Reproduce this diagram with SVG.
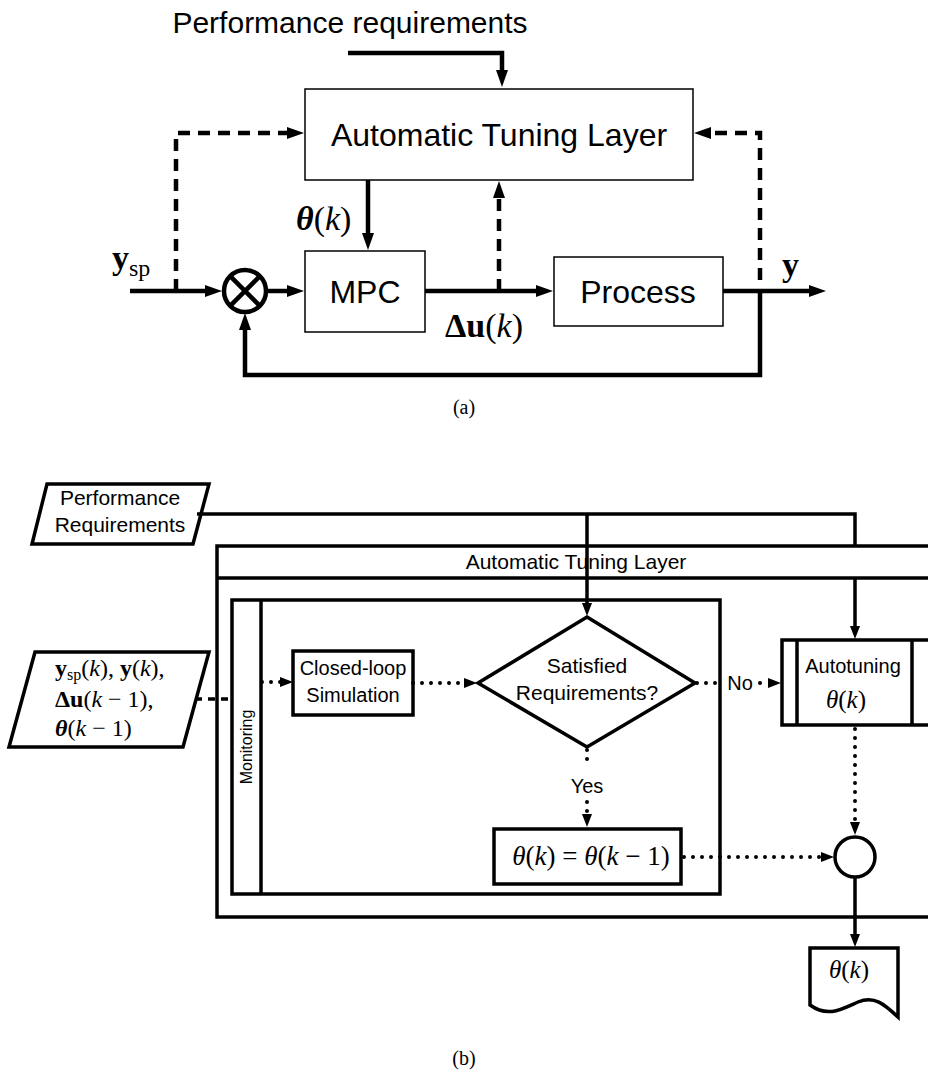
<svg xmlns="http://www.w3.org/2000/svg" width="928" height="1079" viewBox="0 0 928 1079">
<style>
.sans{font-family:"Liberation Sans",Arial,sans-serif;fill:#000}
.serif{font-family:"Liberation Serif","Times New Roman",serif;fill:#000}
.thin{fill:#fff;stroke:#000;stroke-width:1.5}
.thick{fill:#fff;stroke:#000;stroke-width:3.5}
.w{fill:none;stroke:#000;stroke-width:4.5}
.dash{fill:none;stroke:#000;stroke-width:4.5;stroke-dasharray:12 8}
.b{fill:none;stroke:#000;stroke-width:3.5}
.bdash{fill:none;stroke:#000;stroke-width:3.5;stroke-dasharray:7 6}
.dot{fill:none;stroke:#000;stroke-width:4;stroke-dasharray:0 9;stroke-linecap:round}
</style>
<defs>
<marker id="ah" markerUnits="userSpaceOnUse" markerWidth="17" markerHeight="12" viewBox="0 0 17 12" refX="1" refY="6" orient="auto">
<path d="M0,0 L17,6 L0,12 z" fill="#000"/>
</marker>
<marker id="as" markerUnits="userSpaceOnUse" markerWidth="13" markerHeight="10" viewBox="0 0 13 10" refX="1" refY="5" orient="auto">
<path d="M0,0 L13,5 L0,10 z" fill="#000"/>
</marker>
</defs>

<!-- ===== (a) ===== -->
<g id="a-perf-label"><text class="sans" x="350" y="33" font-size="30" text-anchor="middle">Performance requirements</text></g>
<g id="a-atl"><rect class="thin" x="305" y="89" width="388" height="91"/><text class="sans" x="499" y="146" font-size="32" text-anchor="middle">Automatic Tuning Layer</text></g>
<g id="a-mpc"><rect class="thin" x="305" y="251" width="120" height="81"/><text class="sans" x="365" y="303" font-size="32" text-anchor="middle">MPC</text></g>
<g id="a-process"><rect class="thin" x="554" y="257" width="169" height="69"/><text class="sans" x="638" y="303" font-size="32" text-anchor="middle">Process</text></g>
<g id="a-sum"><circle cx="245" cy="291" r="21" fill="#fff" stroke="#000" stroke-width="4.5"/><path d="M230.2,276.2 L259.8,305.8 M259.8,276.2 L230.2,305.8" stroke="#000" stroke-width="4.5"/></g>

<g id="a-connectors">
<path class="w" d="M348,53 H502 V71" marker-end="url(#ah)"/>
<path class="w" d="M368,180 V234" marker-end="url(#ah)"/>
<path class="dash" d="M176,291 V133 H288" marker-end="url(#ah)"/>
<path class="dash" d="M499,291 V197" marker-end="url(#ah)"/>
<path class="dash" d="M760,280 V133 H710" marker-end="url(#ah)"/>
<path class="w" d="M130,291 H206" marker-end="url(#ah)"/>
<path class="w" d="M266,291 H288" marker-end="url(#ah)"/>
<path class="w" d="M425,291 H537" marker-end="url(#ah)"/>
<path class="w" d="M723,291 H810" marker-end="url(#ah)"/>
<path class="w" d="M760,291 V375 H245 V329" marker-end="url(#ah)"/>
</g>
<g id="a-labels">
<text class="serif" x="296" y="230" font-size="34"><tspan font-weight="bold" font-style="italic">θ</tspan>(<tspan font-style="italic">k</tspan>)</text>
<text class="serif" x="112" y="269" font-size="34"><tspan font-weight="bold">y</tspan><tspan font-size="24" dy="7">sp</tspan></text>
<text class="serif" x="782" y="276" font-size="34" font-weight="bold">y</text>
<text class="serif" x="445" y="337" font-size="34"><tspan font-weight="bold">Δu</tspan>(<tspan font-style="italic">k</tspan>)</text>
<text class="serif" x="464" y="414" font-size="20" text-anchor="middle">(a)</text>
</g>

<!-- ===== (b) ===== -->
<g id="b-perf"><polygon class="thick" points="47,484 209,484 193,544 32,544"/><text class="sans" x="120" y="505" font-size="21" text-anchor="middle">Performance</text><text class="sans" x="120" y="532" font-size="21" text-anchor="middle">Requirements</text></g>
<g id="b-atl"><rect class="thick" x="217" y="546" width="720" height="371"/><path class="b" d="M217,578 H935"/><text class="sans" x="576" y="569" font-size="21" text-anchor="middle">Automatic Tuning Layer</text></g>
<g id="b-monitoring"><rect class="thick" x="232" y="600" width="488" height="294"/><path class="b" d="M261,600 V894"/><text class="sans" x="0" y="0" font-size="16" text-anchor="middle" transform="translate(252,747) rotate(-90)">Monitoring</text></g>
<g id="b-inputs"><polygon class="thick" points="35,652 209,652 183,747 9,747"/>
<text class="serif" x="55" y="676" font-size="24"><tspan font-weight="bold">y</tspan><tspan font-size="16" dy="4">sp</tspan><tspan dy="-4">(</tspan><tspan font-style="italic">k</tspan>),  <tspan font-weight="bold">y</tspan>(<tspan font-style="italic">k</tspan>),</text>
<text class="serif" x="55" y="707" font-size="24"><tspan font-weight="bold">Δu</tspan>(<tspan font-style="italic">k</tspan> − 1),</text>
<text class="serif" x="55" y="736" font-size="24"><tspan font-weight="bold" font-style="italic">θ</tspan>(<tspan font-style="italic">k</tspan> − 1)</text>
</g>
<g id="b-sim"><rect class="thick" x="293" y="651" width="120" height="64"/><text class="sans" x="353" y="675" font-size="20" text-anchor="middle">Closed-loop</text><text class="sans" x="353" y="702" font-size="20" text-anchor="middle">Simulation</text></g>
<g id="b-decision"><polygon class="thick" points="587,617 695,683 587,747 478,683"/><text class="sans" x="587" y="673" font-size="21" text-anchor="middle">Satisfied</text><text class="sans" x="587" y="700" font-size="21" text-anchor="middle">Requirements?</text></g>
<g id="b-autotuning"><rect class="thick" x="782" y="640" width="155" height="85"/><path class="b" d="M797,640 V725 M912,640 V725"/><text class="sans" x="853" y="673" font-size="20" text-anchor="middle">Autotuning</text><text class="serif" x="846" y="708" font-size="25" text-anchor="middle"><tspan font-style="italic">θ</tspan>(<tspan font-style="italic">k</tspan>)</text></g>
<g id="b-keep"><rect class="thick" x="494" y="829" width="187" height="55"/><text class="serif" x="591" y="865" font-size="27" text-anchor="middle"><tspan font-style="italic">θ</tspan>(<tspan font-style="italic">k</tspan>) = <tspan font-style="italic">θ</tspan>(<tspan font-style="italic">k</tspan> − 1)</text></g>
<g id="b-merge"><circle class="thick" cx="855" cy="857" r="20"/></g>
<g id="b-output"><path class="thick" d="M810,948 H898 V1017 C885,1005 875,995 858,1002 C842,1009 828,1018 810,1005 Z"/><text class="serif" x="849" y="978" font-size="25" text-anchor="middle"><tspan font-style="italic">θ</tspan>(<tspan font-style="italic">k</tspan>)</text></g>

<g id="b-connectors">
<path class="b" d="M197,514 H855 V546"/>
<path class="b" d="M587,514 V604" marker-end="url(#as)"/>
<path class="b" d="M855,578 V627" marker-end="url(#as)"/>
<path class="bdash" d="M195,699 H232"/>
<path class="dot" d="M262,682 H281" marker-end="url(#as)"/>
<path class="dot" d="M413,683 H465" marker-end="url(#as)"/>
<path class="dot" d="M697,683 H724"/>
<path class="dot" d="M760,683 H769" marker-end="url(#as)"/>
<path class="dot" d="M587,750 V768"/>
<path class="dot" d="M587,802 V815" marker-end="url(#as)"/>
<path class="dot" d="M855,729 V823" marker-end="url(#as)"/>
<path class="dot" d="M684,857 H822" marker-end="url(#as)"/>
<path class="b" d="M855,877 V935" marker-end="url(#as)"/>
</g>
<g id="b-labels">
<text class="sans" x="740" y="690" font-size="20" text-anchor="middle">No</text>
<text class="sans" x="587" y="793" font-size="20" text-anchor="middle">Yes</text>
<text class="serif" x="464" y="1065" font-size="20" text-anchor="middle">(b)</text>
</g>
</svg>
